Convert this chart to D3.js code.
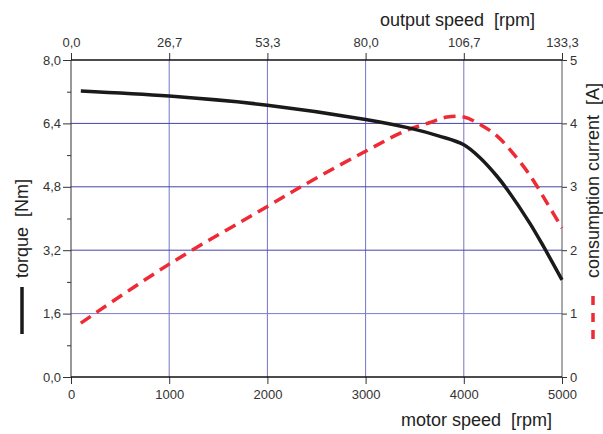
<!DOCTYPE html>
<html>
<head>
<meta charset="utf-8">
<script src="https://cdn.jsdelivr.net/npm/d3@7"></script>
<style>
  body { margin: 0; background: #fff; }
  text { font-family: "Liberation Sans", Arial, sans-serif; white-space: pre; }
</style>
</head>
<body>
<div id="chart"></div>
<script>
// data
const motorSpeed = [100, 1000, 2000, 3000, 3450, 3750, 4000, 4170, 4340, 4440, 4670, 4810, 5000];
const torque = [7.22, 7.09, 6.86, 6.5, 6.28, 6.08, 5.86, 5.52, 5.06, 4.74, 3.89, 3.3, 2.45];

const currentSpeed = [100, 1000, 2000, 2500, 3000, 3400, 3650, 3830, 4000, 4170, 4340, 4500, 4670, 4850, 5000];
const current = [0.85, 1.78, 2.69, 3.14, 3.56, 3.88, 4.01, 4.1, 4.1, 3.98, 3.8, 3.53, 3.19, 2.74, 2.35];

const torqueTicks = [0, 1.6, 3.2, 4.8, 6.4, 8.0];
const torqueMinor = [0.8, 2.4, 4.0, 5.6, 7.2];
const currentTicks = [0, 1, 2, 3, 4, 5];
const speedTicks = [0, 1000, 2000, 3000, 4000, 5000];
const outputLabels = ["0,0", "26,7", "53,3", "80,0", "106,7", "133,3"];

const W = 603, H = 434;
const margin = { top: 60, right: 41, bottom: 57, left: 71 };
const width = W - margin.left - margin.right;
const height = H - margin.top - margin.bottom;

const svg = d3.select("#chart").append("svg")
    .attr("width", W).attr("height", H);
const g = svg.append("g")
    .attr("transform", `translate(${margin.left},${margin.top})`);

const x = d3.scaleLinear().domain([0, 5000]).range([0, width]);
const yT = d3.scaleLinear().domain([0, 8]).range([height, 0]);
const yC = d3.scaleLinear().domain([0, 5]).range([height, 0]);

const comma = (v) => d3.format(".1f")(v).replace(".", ",");

//grid
g.selectAll(".vgrid").data(speedTicks.slice(1, -1)).enter().append("line")
    .attr("x1", (d) => x(d)).attr("x2", (d) => x(d))
    .attr("y1", 0).attr("y2", height)
    .attr("stroke", "#7474c6").attr("stroke-width", 1);
g.selectAll(".hgrid").data(torqueTicks.slice(1, -1)).enter().append("line")
    .attr("x1", 0).attr("x2", width)
    .attr("y1", (d) => yT(d)).attr("y2", (d) => yT(d))
    .attr("stroke", (d) => (d === 1.6 ? "#7c7cc8" : "#4444aa")).attr("stroke-width", 1);

//axes
const axisStyle = (sel) => {
    sel.select(".domain").remove();
    sel.selectAll(".tick line").attr("stroke", "#333");
    sel.selectAll(".tick text").attr("fill", "#333").style("font-size", "13px");
};

const leftMinor = g.append("g")
    .call(d3.axisLeft(yT).tickValues(torqueMinor).tickSize(4).tickFormat(""));
leftMinor.select(".domain").remove();
leftMinor.selectAll(".tick line").attr("stroke", "#333");

g.append("g")
    .call(d3.axisLeft(yT).tickValues(torqueTicks).tickSize(8).tickPadding(2).tickFormat(comma))
    .call(axisStyle);

g.append("g")
    .attr("transform", `translate(${width},0)`)
    .call(d3.axisRight(yC).tickValues(currentTicks).tickSize(5).tickPadding(3).tickFormat(d3.format("d")))
    .call(axisStyle);

g.append("g")
    .attr("transform", `translate(0,${height})`)
    .call(d3.axisBottom(x).tickValues(speedTicks).tickSize(7).tickPadding(6).tickFormat(d3.format("d")))
    .call(axisStyle);

g.append("g")
    .call(d3.axisTop(x).tickValues(speedTicks).tickSize(7).tickPadding(6).tickFormat((d, i) => outputLabels[i]))
    .call(axisStyle);

//frame
g.append("line").attr("x1", 0).attr("x2", 0).attr("y1", 0).attr("y2", height).attr("stroke", "#333");
g.append("line").attr("x1", width).attr("x2", width).attr("y1", 0).attr("y2", height).attr("stroke", "#555");
g.append("line").attr("x1", 0).attr("x2", width).attr("y1", 0).attr("y2", 0).attr("stroke", "#111").attr("stroke-width", 1.3);
g.append("line").attr("x1", 0).attr("x2", width).attr("y1", height).attr("y2", height).attr("stroke", "#111").attr("stroke-width", 1.3);

//lines
const torqueData = motorSpeed.map((s, i) => ({ x: s, y: torque[i] }));
const currentData = currentSpeed.map((s, i) => ({ x: s, y: current[i] }));

g.append("path").datum(currentData)
    .attr("d", d3.line().curve(d3.curveCatmullRom.alpha(0.5)).x((d) => x(d.x)).y((d) => yC(d.y)))
    .attr("fill", "none").attr("stroke", "#ee2a35").attr("stroke-width", 3.5)
    .attr("stroke-dasharray", "12,7");

g.append("path").datum(torqueData)
    .attr("d", d3.line().curve(d3.curveCatmullRom.alpha(0.5)).x((d) => x(d.x)).y((d) => yT(d.y)))
    .attr("fill", "none").attr("stroke", "#1a1a1a").attr("stroke-width", 3.5);

//labels
svg.append("text").attr("x", 552).attr("y", 426).attr("text-anchor", "end")
    .style("font-size", "18px").attr("fill", "#222").text("motor speed  [rpm]");
svg.append("text").attr("x", 535).attr("y", 26).attr("text-anchor", "end")
    .style("font-size", "18px").attr("fill", "#222").text("output speed  [rpm]");

svg.append("text").attr("transform", "translate(28,278) rotate(-90)")
    .style("font-size", "18px").attr("fill", "#222").text("torque  [Nm]");
svg.append("text").attr("transform", "translate(599,278) rotate(-90)")
    .style("font-size", "18px").attr("fill", "#222").text("consumption current  [A]");

//legend marks
svg.append("line").attr("x1", 22).attr("x2", 22).attr("y1", 287).attr("y2", 334)
    .attr("stroke", "#1a1a1a").attr("stroke-width", 3.5);
svg.append("line").attr("x1", 593).attr("x2", 593).attr("y1", 296).attr("y2", 340)
    .attr("stroke", "#ee2a35").attr("stroke-width", 3.5).attr("stroke-dasharray", "9,8");
</script>
</body>
</html>
